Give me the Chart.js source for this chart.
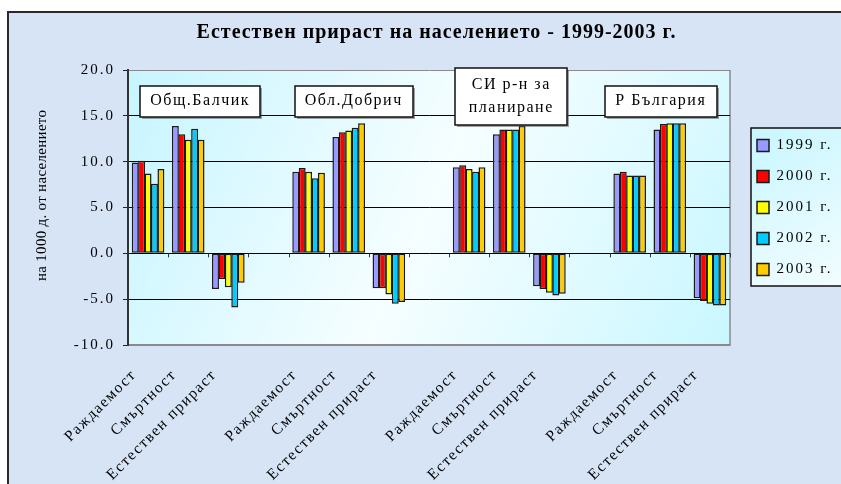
<!DOCTYPE html>
<html>
<head>
<meta charset="utf-8">
<script src="https://cdn.jsdelivr.net/npm/chart.js@4.4.1/dist/chart.umd.min.js"></script>
<style>
  html, body { margin: 0; padding: 0; background: #ffffff; overflow: hidden; }
  #wrap { width: 841px; height: 484px; position: relative; }
</style>
</head>
<body>
<div id="wrap"><canvas id="c"></canvas></div>
<script>
// ---- data ----
const years = ['1999 г.', '2000 г.', '2001 г.', '2002 г.', '2003 г.'];
const indicators = ['Раждаемост', 'Смъртност', 'Естествен прираст'];
const regions = ['Общ.Балчик', 'Обл.Добрич', 'СИ р-н за\nпланиране', 'Р България'];
const yTicks = [-10, -5, 0, 5, 10, 15, 20];

// values per year: [region1: birth, death, growth], gap, [region2 ...] ...
const v1999 = [9.9, 13.9, -3.9, null, 8.9, 12.7, -3.8, null, 9.4, 13.0, -3.6, null, 8.7, 13.5, -4.9];
const v2000 = [10.1, 13.0, -2.8, null, 9.3, 13.2, -3.8, null, 9.6, 13.5, -3.9, null, 8.9, 14.1, -5.2];
const v2001 = [8.7, 12.4, -3.7, null, 8.9, 13.4, -4.5, null, 9.2, 13.5, -4.3, null, 8.5, 14.2, -5.5];
const v2002 = [7.6, 13.6, -5.9, null, 8.2, 13.7, -5.5, null, 8.9, 13.5, -4.6, null, 8.5, 14.2, -5.7];
const v2003 = [9.2, 12.4, -3.2, null, 8.8, 14.2, -5.3, null, 9.4, 13.9, -4.4, null, 8.5, 14.2, -5.7];

const colors = ['#9999FF', '#FF0000', '#FFFF00', '#00CCFF', '#FFCC00'];

// categories: indicators per region with an empty slot between regions
const categories = [];
regions.forEach((r, i) => {
  indicators.forEach(ind => categories.push(ind));
  if (i < regions.length - 1) categories.push('');
});

const series = [v1999, v2000, v2001, v2002, v2003];
const FONT = 'Liberation Serif';

const SP = { title: '1px', yTicks: '2px', yTitle: '0.3px', xTicks: '1.5px', legend: '2px', boxes: '1.5px' };

function wrapSpacing(obj, name, sp) {
  if (!obj || obj['__w_' + name]) return;
  const orig = obj[name];
  obj[name] = function (...args) {
    const ctx = this.ctx;
    const prev = ctx.letterSpacing;
    ctx.letterSpacing = sp;
    try { return orig.apply(this, args); } finally { ctx.letterSpacing = prev; }
  };
  obj['__w_' + name] = true;
}

const decor = {
  id: 'decor',
  afterInit(chart) {
    const lg = chart.legend;
    const f = lg.fit;
    lg.fit = function () { f.call(this); this.width = 111; };
  },
  afterLayout(chart) {
    const lg = chart.legend;
    lg.left += 11; lg.right += 11;
    wrapSpacing(chart.titleBlock, 'draw', SP.title);
    wrapSpacing(lg, 'draw', SP.legend);
    wrapSpacing(chart.scales.y, 'drawLabels', SP.yTicks);
    wrapSpacing(chart.scales.y, 'drawTitle', SP.yTitle);
    wrapSpacing(chart.scales.x, 'drawLabels', SP.xTicks);
  },
  beforeDraw(chart) {
    const ctx = chart.ctx;
    const W = chart.width, H = chart.height;
    const ca = chart.chartArea;
    ctx.save();
    ctx.fillStyle = '#ffffff';
    ctx.fillRect(0, 0, W, H);
    // outer frame background
    ctx.fillStyle = '#d6e4f6';
    ctx.fillRect(8, 12, W - 8, H - 12);
    ctx.strokeStyle = '#2a2a2a';
    ctx.lineWidth = 2;
    ctx.beginPath();
    ctx.moveTo(8, H); ctx.lineTo(8, 12); ctx.lineTo(W, 12);
    ctx.stroke();
    // plot area gradient
    const g = ctx.createLinearGradient(ca.left, ca.top, ca.right, ca.bottom);
    g.addColorStop(0, '#c6f5ff');
    g.addColorStop(0.5, '#f6feff');
    g.addColorStop(1, '#c9f7ff');
    ctx.fillStyle = g;
    ctx.fillRect(ca.left, ca.top, ca.right - ca.left, ca.bottom - ca.top);
    // right border of plot area
    ctx.strokeStyle = '#8a8a8a';
    ctx.lineWidth = 1.5;
    ctx.beginPath();
    ctx.moveTo(ca.right, ca.top); ctx.lineTo(ca.right, ca.bottom);
    ctx.stroke();
    // legend box
    const hb = chart.legend.legendHitBoxes;
    if (hb && hb.length) {
      const x0 = hb[0].left - 6;
      const y0 = hb[0].top - 10;
      const y1 = hb[hb.length - 1].top + hb[hb.length - 1].height + 9;
      const lgG = ctx.createLinearGradient(x0, y0, W, y1);
      lgG.addColorStop(0, '#c8f6ff');
      lgG.addColorStop(1, '#f2fdff');
      ctx.fillStyle = lgG;
      ctx.fillRect(x0, y0, W - x0 + 5, y1 - y0);
      ctx.strokeStyle = '#111';
      ctx.lineWidth = 1.5;
      ctx.strokeRect(x0, y0, W - x0 + 5, y1 - y0);
    }
    ctx.restore();
  },
  afterDatasetsDraw(chart) {
    const ctx = chart.ctx;
    const xs = chart.scales.x, ys = chart.scales.y;
    const y0 = ys.getPixelForValue(0);
    ctx.save();
    // category tick marks on the zero line
    ctx.strokeStyle = '#333';
    ctx.lineWidth = 1;
    ctx.beginPath();
    for (let i = 0; i <= categories.length; i++) {
      const x = Math.round(xs.getPixelForValue(i - 0.5)) + 0.5;
      ctx.moveTo(x, y0); ctx.lineTo(x, y0 + 4);
    }
    ctx.stroke();
    // region label boxes
    const dx = [12, 5, 2, -9];
    const yv = [16.6, 16.6, 17.15, 16.6];
    const pad = [20, 20, 27, 21];
    ctx.font = '16px "' + FONT + '"';
    ctx.letterSpacing = SP.boxes;
    ctx.textAlign = 'center';
    ctx.textBaseline = 'middle';
    regions.forEach((r, i) => {
      const lines = r.split('\n');
      const cx = xs.getPixelForValue(i * 4 + 1) + dx[i];
      const cy = ys.getPixelForValue(yv[i]);
      const tw = Math.max(...lines.map(l => ctx.measureText(l).width));
      const w = Math.round(tw + pad[i]);
      const h = lines.length === 1 ? 31 : 57;
      const bx = Math.round(cx - w / 2), by = Math.round(cy - h / 2);
      ctx.fillStyle = 'rgba(90,90,90,0.55)';
      ctx.fillRect(bx + 2, by + 2, w, h);
      ctx.fillStyle = '#ffffff';
      ctx.fillRect(bx, by, w, h);
      ctx.strokeStyle = '#111';
      ctx.lineWidth = 1.5;
      ctx.strokeRect(bx, by, w, h);
      ctx.fillStyle = '#000';
      lines.forEach((l, k) => {
        const ly = cy + (k - (lines.length - 1) / 2) * 23;
        ctx.fillText(l, cx, ly);
      });
    });
    ctx.restore();
  }
};

new Chart(document.getElementById('c'), {
  type: 'bar',
  data: {
    labels: categories,
    datasets: series.map((s, i) => ({
      label: years[i],
      data: s,
      backgroundColor: colors[i],
      borderColor: '#1a1a1a',
      borderWidth: 1.5,
      borderSkipped: false,
      categoryPercentage: 0.8,
      barPercentage: 1.08
    }))
  },
  options: {
    responsive: true,
    maintainAspectRatio: false,
    animation: false,
    events: [],
    layout: { padding: { left: 32, right: 0, top: 0, bottom: 0 } },
    plugins: {
      title: {
        display: true,
        text: 'Естествен прираст на населението - 1999-2003 г.',
        color: '#000',
        font: { family: FONT, size: 20, weight: 'bold' },
        padding: { top: 21, bottom: 25 }
      },
      legend: {
        display: true,
        position: 'right',
        fullSize: false,
        align: 'center',
        labels: {
          color: '#000',
          font: { family: FONT, size: 15 },
          boxWidth: 12,
          boxHeight: 12,
          padding: 16
        }
      },
      tooltip: { enabled: false }
    },
    scales: {
      x: {
        type: 'category',
        grid: { display: false },
        border: { display: true, color: '#8a8a8a', width: 1.5 },
        ticks: {
          autoSkip: false,
          minRotation: 45,
          maxRotation: 45,
          color: '#000',
          font: { family: FONT, size: 15.5 },
          padding: 13,
          labelOffset: -14
        },
        afterFit(s) { s.height = 139; }
      },
      y: {
        min: -10,
        max: 20,
        afterBuildTicks(s) { s.ticks = yTicks.map(v => ({ value: v })); },
        grid: {
          color: c => (c.tick && (c.tick.value === 20 || c.tick.value === -10)) ? '#8a8a8a' : '#000',
          lineWidth: 1,
          drawTicks: true,
          tickLength: 5,
          tickColor: '#222'
        },
        border: { display: true, color: '#333', width: 2 },
        ticks: {
          color: '#000',
          font: { family: FONT, size: 15 },
          padding: 8,
          callback: v => Number(v).toFixed(1)
        },
        title: {
          display: true,
          text: '      на 1000 д. от населението',
          color: '#000',
          font: { family: FONT, size: 15 },
          padding: { top: 1, bottom: 0 }
        },
        afterFit(s) { s.width = 96; }
      }
    }
  },
  plugins: [decor]
});
</script>
</body>
</html>
